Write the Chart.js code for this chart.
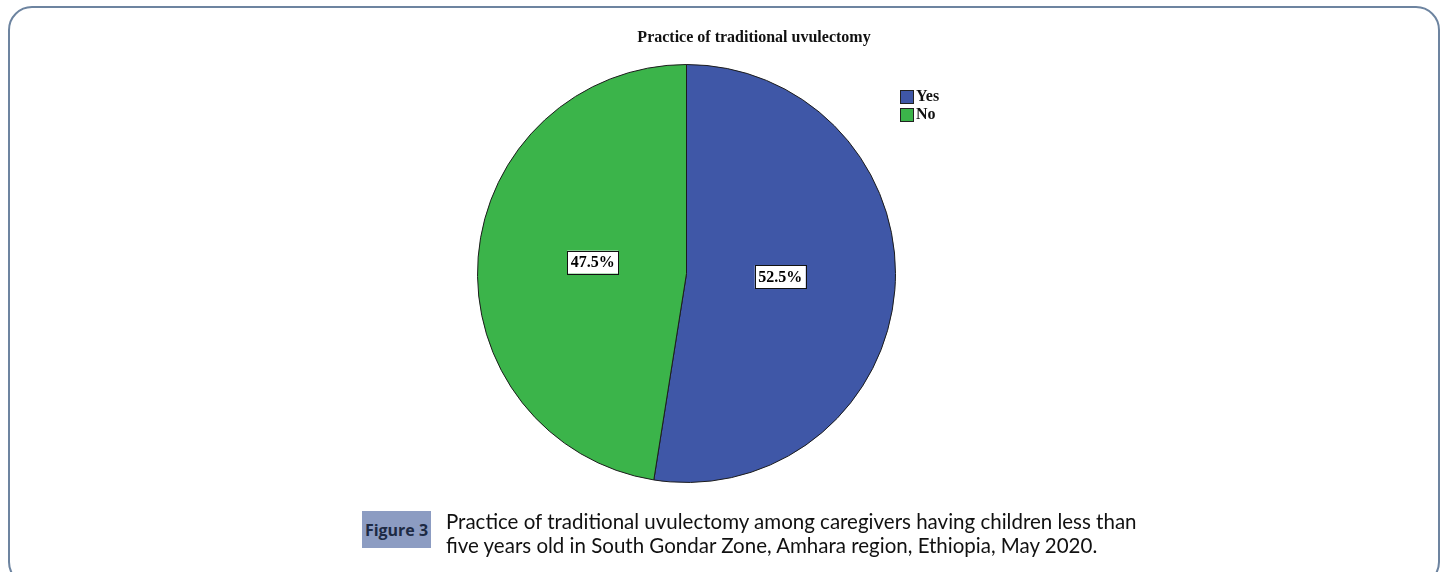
<!DOCTYPE html>
<html>
<head>
<meta charset="utf-8">
<script src="https://cdn.jsdelivr.net/npm/chart.js@4/dist/chart.umd.min.js"></script>
<style>
  html, body { margin: 0; padding: 0; background: #fff; }
  body { width: 1451px; height: 572px; position: relative; overflow: hidden; }
  #frame {
    position: absolute; left: 8px; top: 6px; width: 1432px; height: 580px;
    border: 2px solid #6d84a0; border-radius: 24px; box-sizing: border-box;
  }
  #wrap { position: absolute; left: 0; top: 0; width: 1451px; height: 572px; }
  #figLabel {
    position: absolute; left: 362px; top: 511px; width: 69px; height: 37px;
    background: #8c9cc2; color: #1d2a44; font: bold 16px "Open Sans", sans-serif;
    display: flex; align-items: center; justify-content: center;
  }
  #caption {
    position: absolute; left: 446px; top: 509px; color: #111;
    font: 20.5px Lato, sans-serif; line-height: 24px;
  }
</style>
</head>
<body>
<div id="frame"></div>
<div id="wrap"><canvas id="pie"></canvas></div>
<div id="figLabel">Figure 3</div>
<div id="caption">Practice of traditional uvulectomy among caregivers having children less than<br>five years old in South Gondar Zone, Amhara region, Ethiopia, May 2020.</div>
<script>
const chartTitle = "Practice of traditional uvulectomy";
const categories = ["Yes", "No"];
const percentages = [52.5, 47.5];
const sliceColors = ["#3f57a7", "#3bb44a"];

// cajas con el porcentaje dentro de cada sector
const labelBoxes = {
  id: "labelBoxes",
  afterDatasetsDraw(chart) {
    const ctx = chart.ctx;
    const meta = chart.getDatasetMeta(0);
    ctx.save();
    ctx.font = "bold 16px 'Liberation Serif', serif";
    ctx.textAlign = "center";
    ctx.textBaseline = "middle";
    meta.data.forEach((arc, i) => {
      const mid = (arc.startAngle + arc.endAngle) / 2;
      const r = arc.outerRadius * 0.45;
      const x = arc.x + Math.cos(mid) * r;
      const y = arc.y + Math.sin(mid) * r - 4;
      const txt = percentages[i].toFixed(1) + "%";
      const w = ctx.measureText(txt).width + 7;
      const h = 23;
      ctx.fillStyle = "#fff";
      ctx.fillRect(x - w / 2, y - h / 2, w, h);
      ctx.strokeStyle = "#111";
      ctx.lineWidth = 1;
      ctx.strokeRect(Math.round(x - w / 2) + 0.5, Math.round(y - h / 2) + 0.5, Math.round(w), h);
      ctx.fillStyle = "#000";
      ctx.fillText(txt, x, y + 1);
    });
    ctx.restore();
  }
};

// titulo y leyenda a la manera de SPSS
const titleAndLegend = {
  id: "titleAndLegend",
  afterDraw(chart) {
    const ctx = chart.ctx;
    ctx.save();
    ctx.font = "bold 16px 'Liberation Serif', serif";
    ctx.fillStyle = "#111";
    ctx.textAlign = "center";
    ctx.textBaseline = "middle";
    ctx.fillText(chartTitle, 754, 38);

    ctx.font = "bold 16px 'Liberation Serif', serif";
    ctx.textAlign = "left";
    categories.forEach((c, i) => {
      const y = 90 + i * 18;
      ctx.fillStyle = sliceColors[i];
      ctx.fillRect(900, y, 13, 13);
      ctx.strokeStyle = "#222";
      ctx.lineWidth = 1;
      ctx.strokeRect(900.5, y + 0.5, 13, 13);
      ctx.fillStyle = "#111";
      ctx.fillText(c, 916, y + 7);
    });
    ctx.restore();
  }
};

new Chart(document.getElementById("pie"), {
  type: "pie",
  data: {
    labels: categories,
    datasets: [{
      data: percentages,
      backgroundColor: sliceColors,
      borderColor: "#1c1c1c",
      borderWidth: 1
    }]
  },
  options: {
    responsive: true,
    maintainAspectRatio: false,
    animation: false,
    layout: { padding: { left: 477, right: 555, top: 64, bottom: 89 } },
    plugins: {
      legend: { display: false },
      tooltip: { enabled: false }
    }
  },
  plugins: [labelBoxes, titleAndLegend]
});
</script>
</body>
</html>
